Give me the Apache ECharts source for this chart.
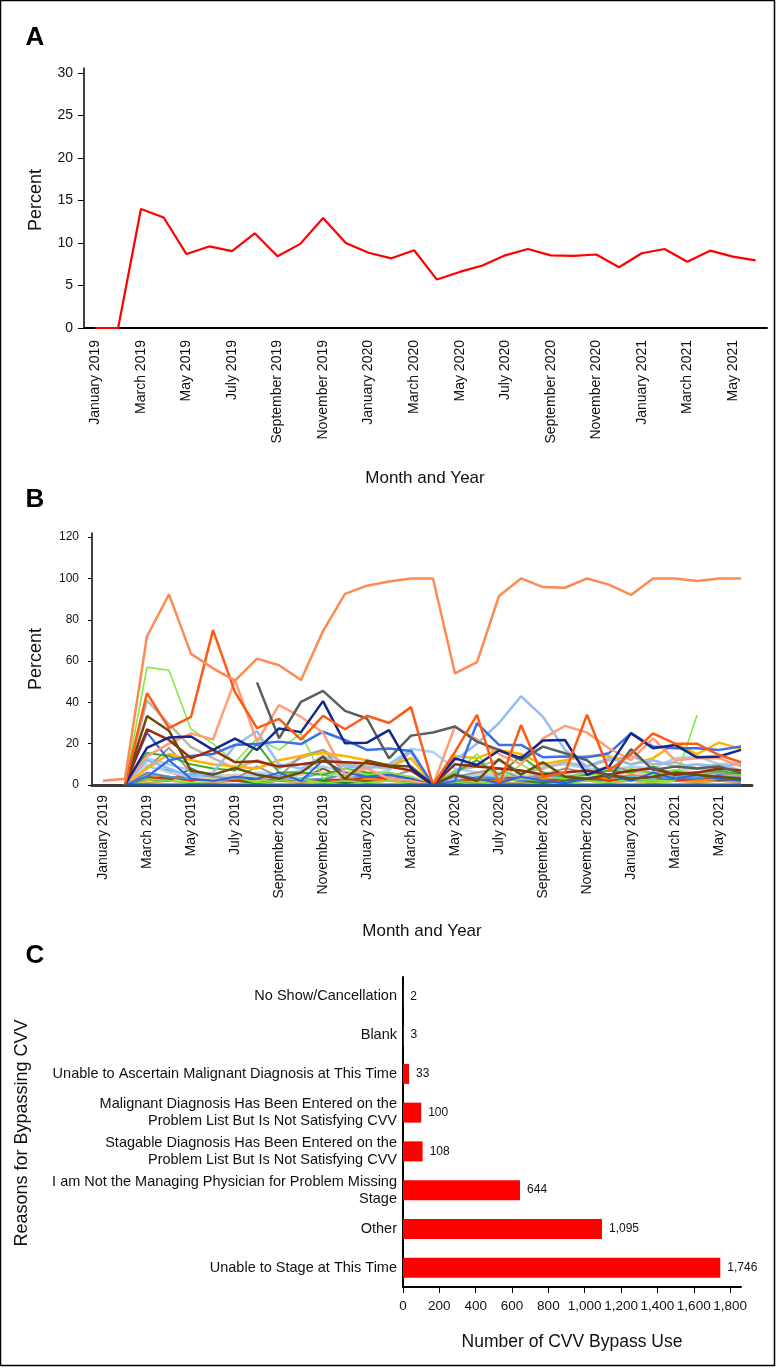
<!DOCTYPE html>
<html><head><meta charset="utf-8">
<script src="https://cdn.jsdelivr.net/npm/echarts@6/dist/echarts.min.js"></script>
<style>html,body{margin:0;padding:0;background:#fff}#c{width:776px;height:1368px}</style>
</head><body><div id="c"></div>
<script>
// ---------- DATA ----------
const months = ['January 2019','February 2019','March 2019','April 2019','May 2019','June 2019','July 2019','August 2019','September 2019','October 2019','November 2019','December 2019',
 'January 2020','February 2020','March 2020','April 2020','May 2020','June 2020','July 2020','August 2020','September 2020','October 2020','November 2020','December 2020',
 'January 2021','February 2021','March 2021','April 2021','May 2021','June 2021'];

// Panel A: overall percent
const overallPct = [0,0,14.0,13.0,8.7,9.6,9.05,11.15,8.45,9.9,12.95,10.0,8.85,8.2,9.15,5.7,6.6,7.35,8.55,9.3,8.55,8.5,8.65,7.15,8.8,9.3,7.8,9.1,8.4,7.95];
const yTicksA = [0,5,10,15,20,25,30];

// Panel B: individual lines
const lineCoral = [2,3,72,92.3,63.5,56.5,50.5,61.2,58,50.8,74.5,92.5,96.5,98.5,100,100,54,59.5,91.5,100,95.8,95.5,100,97,92,100,100,98.8,100,100];
const lineOrangeRed = [null,0,44.5,27.5,33,75,45,27.5,32,22,33.5,27,33.5,30,37.7,0,16,33.9,0,29,4,6,34,7,15,25,20,20,14.5,11];
const lineLightGreen = [null,0,57,55.5,27,20,11,22.5,17,25,3,8,5,6,4,0,6,15,2,10,4,3,6,4,8,5,7,6,4,5];
const lineLightGreen2 = [null,0,3,2,1,2,4,1,2,3,1,2,1,2,1,0,1,2,1,3,2,1,2,1,3,2,2,33.8,null,null];
const lineDarkSlate = [null,null,null,null,null,null,null,49.7,22.6,40.3,45.6,35.9,32.2,12.9,23.9,25.4,28.3,21,17,12,18.6,15.4,12,3.2,17.3,7.3,8.9,8,9,5.7];
const lineNavy = [null,0,18,23,23.5,17,22.5,17,27.4,25.6,40.6,20.2,20.5,26.6,8,0,12.9,9.7,16.7,13,21.5,21.8,4.9,8.9,25.1,17.8,19.4,13.4,13.8,17];
const lineRoyalBlue = [null,0,4,12,14,15,19.4,20,21,19.8,25.8,21.8,17,17.7,16.5,0,2,30,19.4,19.4,13.4,13.8,13.4,15.4,25,18.6,17.8,17.8,17,18.6];
const lineBlue2 = [null,0,25.3,12,3,2,4,3,6,2,12,6,4,5,3,0,5,3,1,4,2,1,3,5,2,6,3,5,3,2];
const lineLightSky = [null,0,12,8,4,6,19,26,10,8,14,9,8,10,17,0,12,20,30,43,33,17,9,13,10,12,9,10,9,10];
const lineLightSalmon = [null,0,14,20,25,22,50.8,21,38.7,33,25.3,5,8,3,2,0,28.3,22,15,10,22.6,28.6,25.4,17.8,12,22.6,12,13,13,9];
const lineSilver = [null,0,41,29.5,18.3,13,8,12,8,13,17,10,9,8,16,0,7,9,12,6,8,11,9,12,14,10,11,8,10,7];
const lineGray2 = [null,0,8,18,6,4,3,9,4,14,17,6,5,4,7,0,4,6,8,3,5,8,6,9,7,6,7,5,6,4];
const lineOlive = [null,0,33.4,26.3,7,5,8.2,5,3,6,13.7,3,11.8,9.5,9,0,5,2,12.5,5,11,4,3,5,3,4,6,5,4,3];
const lineRedBrown = [null,0,26.9,21.8,13,17,11,11.5,9,10,11.5,11,10.5,9,7,0,10,9,8,7,5,6,7,5,7,8,5,6,8,7];
const lineGold = [null,0,8,15,12,10,9,8,12,14,15.5,14,12,9,13,0,14,13,17,15,10,12,14,14,10,13,20,15,20.5,17.5];
const lineGreen = [null,0,15.5,14,10,8,7,20,6,6,5,8,6,5,3,0,6,12,5,14,6,4,5,7,6,9,5,6,7,5];
const linePaleBlue = [null,0,13,10,7,5,4,6,5,7,9,6,5,7,17.5,16,8,6,4,6,9,10,8,7,9,8,13,14,10,11];
const lineLightGray = [null,0,10,6,4,3,5,4,3,5,6,4,6,5,4,0,3,5,6,4,6,5,4,5,6,5,7,8,6,5];
const lineTeal = [null,0,6,4,3,2,3,5,4,2,3,5,4,6,3,0,2,4,3,2,4,3,5,4,3,2,4,3,5,4];
const lineDarkGreen = [null,0,3,2,8,3,2,1,2,3,2,1,2,3,2,0,1,2,3,2,1,2,3,2,3,4,3,2,3,2];
const lineYellowGreen = [null,0,2,3,2,4,3,2,3,2,1,2,3,2,1,0,2,1,2,3,2,1,2,3,2,1,2,3,2,3];
const lineBrown = [null,0,4,3,5,2,3,4,2,3,8,3,2,3,1,0,3,2,4,3,2,3,2,4,3,2,3,4,2,3];
const lineOrange = [null,0,5,4,3,4,5,3,4,6,5,4,3,2,3,0,2,3,2,4,3,5,4,3,5,4,3,2,3,4];
const lineSky = [null,0,9,7,5,4,3,5,4,3,6,4,5,3,4,0,3,5,4,3,5,4,6,5,4,3,5,4,3,5];
const lineTan = [null,0,1,2,1,1,2,1,2,1,2,3,1,2,1,0,1,2,1,1,2,1,2,1,2,1,2,1,2,1];
const lineRed = [null,0,3,4,2,3,2,3,4,2,3,2,4,3,2,0,3,2,3,4,2,3,4,2,3,4,2,3,4,3];
const lineBaseline = [null,0,0,0,0,0,0,0,0,0,0,0,0,0,0,0,0,0,0,0,0,0,0,0,0,0,0,0,0,0];
const yTicksB = [0,20,40,60,80,100,120];

// Panel C
const reasons = ['No Show/Cancellation','Blank','Unable to Ascertain Malignant Diagnosis at This Time',
 'Malignant Diagnosis Has Been Entered on the\nProblem List But Is Not Satisfying CVV',
 'Stagable Diagnosis Has Been Entered on the\nProblem List But Is Not Satisfying CVV',
 'I am Not the Managing Physician for Problem Missing\nStage','Other','Unable to Stage at This Time'];
const reasonCounts = [2,3,33,100,108,644,1095,1746];
const xTicksC = [0,200,400,600,800,1000,1200,1400,1600,1800];

// ---------- STYLE / BUILD ----------
const FF = '"Liberation Sans", Arial, Helvetica, sans-serif';
const BLK = '#111';
const linesB = [
  [lineTan,'#D2A45A',2],[lineYellowGreen,'#B5D334',2],[lineDarkGreen,'#2E7D32',2],[lineBrown,'#8B5A2B',2],
  [lineOrange,'#FF8C00',2],[lineSky,'#5AB0E8',2],[lineRed,'#E0301E',2],[lineTeal,'#4C8FD8',2],
  [linePaleBlue,'#A6D4F2',2.5],[lineLightGray,'#D0D0D0',2.5],[lineSilver,'#B8B8B8',2.5],[lineGray2,'#9A9A9A',2],
  [lineGold,'#FFB400',2.5],[lineGreen,'#3FAE2A',2],[lineLightGreen2,'#7CE83A',1.5],[lineLightGreen,'#80E838',1.5],
  [lineLightSky,'#92BEF5',2.5],[lineBlue2,'#2F62E0',2],[lineRoyalBlue,'#3C6FEA',2.5],[lineLightSalmon,'#FF9E78',2.5],
  [lineRedBrown,'#9A2A08',2.5],[lineOlive,'#6A4C0E',2.5],[lineDarkSlate,'#56605E',2.5],[lineNavy,'#15288A',2.5],
  [lineOrangeRed,'#FF5A14',2.5],[lineCoral,'#FF8A50',2.5],[lineBaseline,'#2151A8',3]
];

const chart = echarts.init(document.getElementById('c'), null, {renderer:'canvas'});
const axisLbl = (extra) => Object.assign({color:BLK, fontFamily:FF}, extra);

const series = [];
series.push({type:'line', xAxisIndex:0, yAxisIndex:0, data:overallPct, symbol:'none', lineStyle:{color:'#FF0000', width:2.2}, itemStyle:{color:'#FF0000'}});
linesB.forEach(([d,c,w]) => series.push({type:'line', xAxisIndex:1, yAxisIndex:1, data:d, symbol:'none', connectNulls:false, lineStyle:{color:c, width:w}, itemStyle:{color:c}}));
series.push({type:'bar', xAxisIndex:2, yAxisIndex:2, data:reasonCounts, barWidth:20, itemStyle:{color:'#FF0000'},
  label:{show:true, position:'right', distance:7, fontSize:12, fontFamily:FF, color:BLK, formatter:p => p.value.toLocaleString('en-US')}});

const txt = (text, x, y, size, opts) => Object.assign({type:'text', x, y, style:{text, fontSize:size, fontFamily:FF, fill:BLK, align:'center', verticalAlign:'middle', fontWeight:'normal'}}, opts||{});

const option = {
  animation:false,
  backgroundColor:'#fff',
  grid:[
    {left:84, right:9, top:68, height:260, containLabel:false, outerBoundsMode:'none'},
    {left:92, right:24, top:533, height:252, containLabel:false, outerBoundsMode:'none'},
    {left:403, right:35, top:977, height:310, containLabel:false, outerBoundsMode:'none'}
  ],
  xAxis:[
    {type:'category', gridIndex:0, data:months, boundaryGap:true,
     axisLine:{show:true, lineStyle:{color:'#000', width:2}}, axisTick:{show:false},
     axisLabel:axisLbl({interval:1, rotate:90, margin:12, fontSize:14})},
    {type:'category', gridIndex:1, data:months, boundaryGap:true,
     axisLine:{show:true, lineStyle:{color:'#3a3a3a', width:3}}, axisTick:{show:false},
     axisLabel:axisLbl({interval:1, rotate:90, margin:10, fontSize:14})},
    {type:'value', gridIndex:2, min:0, max:1860, splitLine:{show:false},
     axisLine:{show:true, lineStyle:{color:'#000', width:2}},
     axisTick:{show:true, length:6, customValues:xTicksC, lineStyle:{color:'#000'}},
     axisLabel:axisLbl({customValues:xTicksC, fontSize:13.5, margin:12, formatter:v => v.toLocaleString('en-US')})}
  ],
  yAxis:[
    {type:'value', gridIndex:0, min:0, max:30.6, splitLine:{show:false},
     axisLine:{show:true, lineStyle:{color:'#000', width:1.5}},
     axisTick:{show:true, length:6, customValues:yTicksA, lineStyle:{color:'#000'}},
     axisLabel:axisLbl({customValues:yTicksA, fontSize:14, margin:11})},
    {type:'value', gridIndex:1, min:0, max:122, splitLine:{show:false},
     axisLine:{show:true, lineStyle:{color:'#000', width:1.5}},
     axisTick:{show:true, length:4, customValues:yTicksB, lineStyle:{color:'#000'}},
     axisLabel:axisLbl({customValues:yTicksB, fontSize:12, margin:13})},
    {type:'category', gridIndex:2, data:reasons, inverse:true,
     axisLine:{show:true, lineStyle:{color:'#000', width:2}}, axisTick:{show:false},
     axisLabel:axisLbl({fontSize:14.5, margin:6, lineHeight:17, interval:0})}
  ],
  series,
  graphic:[
    {type:'rect', shape:{x:0.5, y:0.5, width:774, height:1365}, style:{fill:'none', stroke:'#000', lineWidth:1.5}},
    txt('A', 35, 37.5, 26, {style:{text:'A', fontSize:26, fontFamily:FF, fontWeight:'bold', fill:'#000', align:'center', verticalAlign:'middle'}}),
    txt('B', 35, 499.5, 26, {style:{text:'B', fontSize:26, fontFamily:FF, fontWeight:'bold', fill:'#000', align:'center', verticalAlign:'middle'}}),
    txt('C', 35, 956, 26, {style:{text:'C', fontSize:26, fontFamily:FF, fontWeight:'bold', fill:'#000', align:'center', verticalAlign:'middle'}}),
    txt('Percent', 36, 200, 18, {rotation:Math.PI/2}),
    txt('Percent', 36, 659, 18, {rotation:Math.PI/2}),
    txt('Month and Year', 425, 478, 17),
    txt('Month and Year', 422, 931, 17),
    txt('Reasons for Bypassing CVV', 22, 1133, 18, {rotation:Math.PI/2}),
    txt('Number of CVV Bypass Use', 572, 1342, 17.5)
  ]
};
chart.setOption(option);
</script>
</body></html>
